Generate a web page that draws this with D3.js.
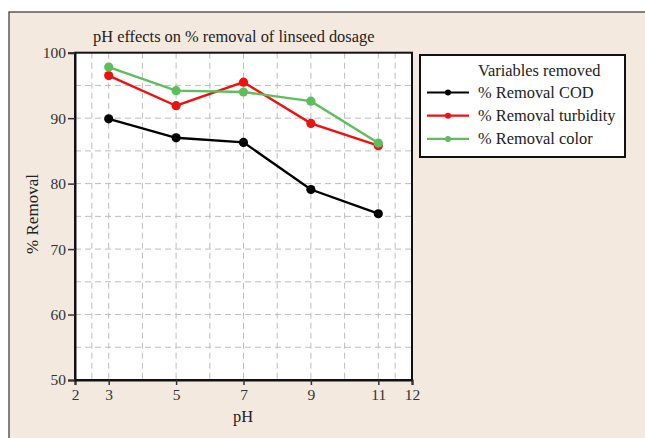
<!DOCTYPE html>
<html>
<head>
<meta charset="utf-8">
<script src="https://cdn.jsdelivr.net/npm/d3@7"></script>
<style>
  html, body { margin: 0; padding: 0; background: #ffffff; }
  svg { display: block; }
</style>
</head>
<body>
<svg id="chart" width="645" height="438"></svg>
<script>
// pH values tested and % removal for each measured variable
const phLevels = [3, 5, 7, 9, 11];
const removalCOD = [89.9, 87.0, 86.3, 79.1, 75.4];
const removalTurbidity = [96.5, 91.9, 95.5, 89.2, 85.8];
const removalColor = [97.8, 94.2, 94.0, 92.6, 86.2];

const seriesNames = ["% Removal COD", "% Removal turbidity", "% Removal color"];
const seriesColors = ["#000000", "#ee1111", "#5cbf5c"];

const xTickValues = [2, 3, 5, 7, 9, 11, 12];
const xGridValues = [2.5, 3, 4, 5, 6, 7, 8, 9, 10, 11, 11.5];
const yTickValues = [50, 60, 70, 80, 90, 100];
const yGridValues = [55, 60, 65, 70, 75, 80, 85, 90, 95];

const series = [removalCOD, removalTurbidity, removalColor].map((vals, i) => ({
  name: seriesNames[i],
  color: seriesColors[i],
  points: phLevels.map((p, j) => ({ x: p, y: vals[j] }))
}));

const svg = d3.select("#chart");
const W = 645, H = 438;
const serif = "'Liberation Serif', 'Times New Roman', serif";
const fs = 16.4;

// outer beige panel
svg.append("rect").attr("x", 9).attr("y", 12).attr("width", W).attr("height", H)
  .attr("fill", "#f3e9df").attr("stroke", "#333").attr("stroke-width", 1.2);

const plot = { left: 75, right: 412, top: 52.7, bottom: 380 };
const x = d3.scaleLinear().domain([2, 12]).range([plot.left, plot.right]);
const y = d3.scaleLinear().domain([50, 100]).range([plot.bottom, plot.top]);

svg.append("rect")
  .attr("x", plot.left).attr("y", plot.top)
  .attr("width", plot.right - plot.left).attr("height", plot.bottom - plot.top)
  .attr("fill", "#ffffff");

// dashed grid
const grid = svg.append("g").attr("stroke", "#bdbdbd").attr("stroke-width", 1)
  .attr("stroke-dasharray", "6,4");
grid.selectAll("line.v").data(xGridValues).join("line")
  .attr("x1", d => x(d)).attr("x2", d => x(d))
  .attr("y1", plot.top).attr("y2", plot.bottom);
grid.selectAll("line.h").data(yGridValues).join("line")
  .attr("x1", plot.left).attr("x2", plot.right)
  .attr("y1", d => y(d)).attr("y2", d => y(d));

// frame
svg.append("rect")
  .attr("x", plot.left).attr("y", plot.top)
  .attr("width", plot.right - plot.left).attr("height", plot.bottom - plot.top)
  .attr("fill", "none").attr("stroke", "#111").attr("stroke-width", 2);

// axes
const xAxis = svg.append("g").attr("transform", `translate(0,${plot.bottom})`)
  .call(d3.axisBottom(x).tickValues(xTickValues).tickSize(5).tickPadding(4).tickFormat(d3.format("d")));
const yAxis = svg.append("g").attr("transform", `translate(${plot.left},0)`)
  .call(d3.axisLeft(y).tickValues(yTickValues).tickSize(7).tickPadding(2).tickFormat(d3.format("d")));
[xAxis, yAxis].forEach(a => {
  a.select(".domain").attr("stroke", "#111").attr("stroke-width", 2);
  a.selectAll(".tick line").attr("stroke", "#333").attr("stroke-width", 1.5);
  a.selectAll(".tick text").attr("font-family", serif)
    .attr("font-size", 15.5).attr("fill", "#333");
});

// series lines and markers
const line = d3.line().x(d => x(d.x)).y(d => y(d.y));
series.forEach(s => {
  svg.append("path").datum(s.points)
    .attr("d", line).attr("fill", "none")
    .attr("stroke", s.color).attr("stroke-width", 2.4);
  svg.append("g").selectAll("circle").data(s.points).join("circle")
    .attr("cx", d => x(d.x)).attr("cy", d => y(d.y)).attr("r", 4.6)
    .attr("fill", s.color);
});

// title and axis labels
svg.append("text").attr("x", 93).attr("y", 41.5)
  .attr("font-family", serif).attr("font-size", fs).attr("fill", "#222")
  .text("pH effects on % removal of linseed dosage");
svg.append("text").attr("x", 243).attr("y", 422).attr("text-anchor", "middle")
  .attr("font-family", serif).attr("font-size", fs).attr("fill", "#222").text("pH");
svg.append("text").attr("transform", "translate(38,214) rotate(-90)").attr("text-anchor", "middle")
  .attr("font-family", serif).attr("font-size", 17).attr("fill", "#222").text("% Removal");

// legend
const lg = svg.append("g");
lg.append("rect").attr("x", 420).attr("y", 55).attr("width", 205).attr("height", 102)
  .attr("fill", "#ffffff").attr("stroke", "#111").attr("stroke-width", 2);
lg.append("text").attr("x", 478).attr("y", 76)
  .attr("font-family", serif).attr("font-size", fs).attr("fill", "#222").text("Variables removed");
series.forEach((s, i) => {
  const ly = 92.5 + i * 23.2;
  lg.append("line").attr("x1", 427).attr("x2", 469).attr("y1", ly).attr("y2", ly)
    .attr("stroke", s.color).attr("stroke-width", 2.2);
  lg.append("circle").attr("cx", 448).attr("cy", ly).attr("r", 3).attr("fill", s.color);
  lg.append("text").attr("x", 478).attr("y", ly + 5)
    .attr("font-family", serif).attr("font-size", fs).attr("fill", "#222").text(s.name);
});
</script>
</body>
</html>
